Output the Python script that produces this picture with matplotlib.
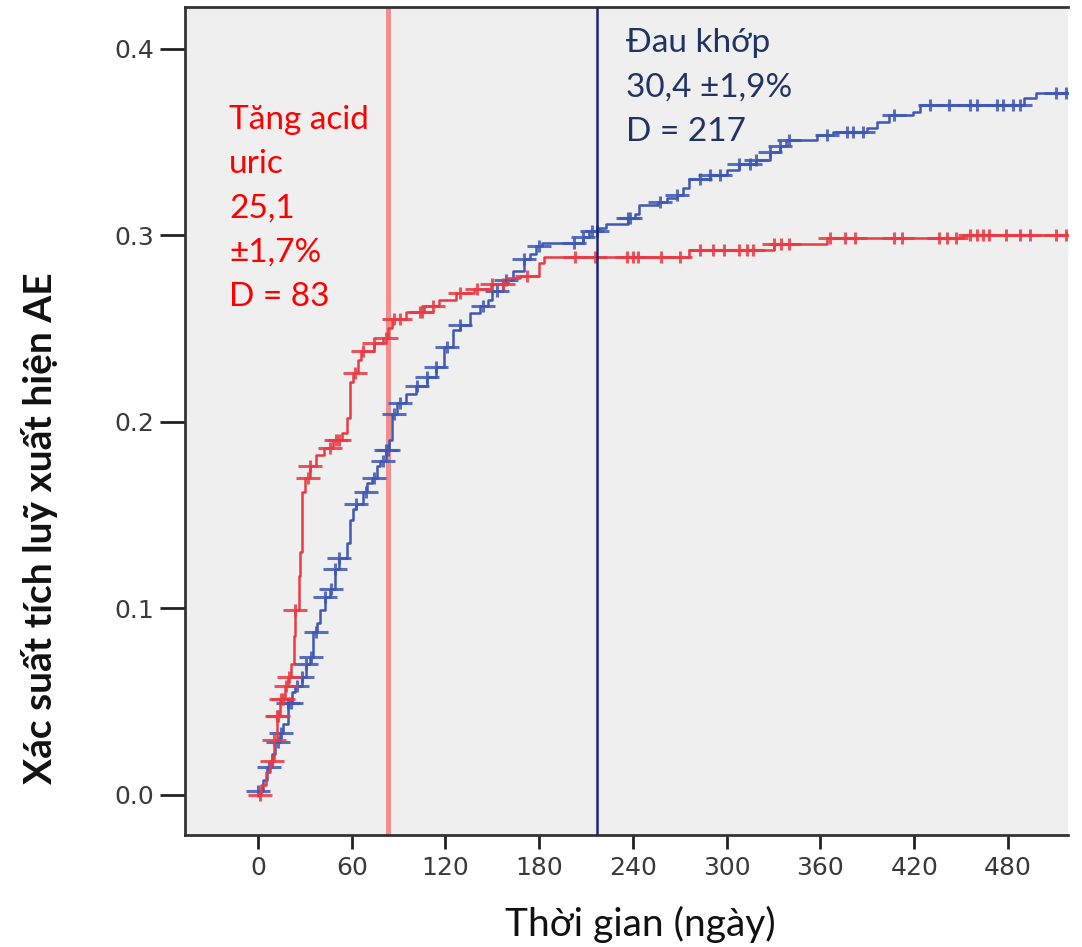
import numpy as np
import matplotlib
matplotlib.use('Agg')
import matplotlib.pyplot as plt
from matplotlib.path import Path

# Đường tích luỹ Kaplan-Meier: thời điểm nhảy bậc (ngày) và giá trị sau bậc
uric_days = [0, 2, 5, 8, 10, 12, 14, 17, 19, 21, 23, 24, 26, 27, 28, 30, 33, 37, 42, 48,
             54, 57, 59, 61, 64, 66, 74, 80, 83, 86, 95, 106, 116, 127, 138, 149, 160, 168,
             180, 183, 276, 330, 364, 451, 518]
uric_prob = [0.000, 0.005, 0.012, 0.018, 0.029, 0.042, 0.051, 0.058, 0.063, 0.070, 0.085,
             0.099, 0.117, 0.130, 0.162, 0.170, 0.176, 0.182, 0.186, 0.190, 0.194, 0.202,
             0.221, 0.226, 0.233, 0.238, 0.242, 0.245, 0.250, 0.255, 0.259, 0.262, 0.265,
             0.269, 0.271, 0.274, 0.277, 0.278, 0.285, 0.288, 0.292, 0.295, 0.2986, 0.300,
             0.301]
uric_censor = [1, 9, 10, 12, 13, 15, 16, 18, 20, 24, 32, 33, 46, 50, 52, 62, 67, 74, 82, 87,
               91, 104, 105, 112, 129, 140, 150, 157, 172, 203, 216, 236, 240, 243, 258, 270,
               283, 291, 298, 308, 313, 317, 330, 335, 340, 366, 376, 382, 407, 412, 436, 441,
               447, 456, 460, 464, 468, 479, 488, 494, 511, 517]

joint_days = [0, 3, 6, 9, 11, 14, 16, 19, 22, 24, 28, 31, 33, 35, 38, 40, 43, 46, 49, 52, 57,
              59, 61, 63, 67, 70, 73, 76, 78, 82, 84, 86, 89, 95, 101, 108, 114, 119, 125, 129,
              136, 142, 147, 150, 157, 163, 170, 174, 178, 182, 208, 212, 218, 223, 237, 241,
              244, 256, 262, 268, 272, 276, 289, 300, 308, 319, 328, 334, 338, 358, 368, 390,
              396, 404, 419, 424, 490, 498, 518]
joint_prob = [0.002, 0.008, 0.015, 0.022, 0.028, 0.033, 0.038, 0.049, 0.055, 0.058, 0.063,
              0.070, 0.074, 0.087, 0.092, 0.099, 0.106, 0.110, 0.121, 0.127, 0.135, 0.147,
              0.153, 0.156, 0.162, 0.167, 0.170, 0.176, 0.179, 0.185, 0.190, 0.204, 0.210,
              0.215, 0.219, 0.224, 0.229, 0.240, 0.249, 0.252, 0.258, 0.262, 0.265, 0.270,
              0.276, 0.281, 0.287, 0.290, 0.294, 0.296, 0.299, 0.302, 0.304, 0.306, 0.309,
              0.3115, 0.316, 0.318, 0.320, 0.3215, 0.325, 0.330, 0.332, 0.335, 0.338, 0.340,
              0.3445, 0.348, 0.351, 0.3537, 0.3553, 0.3575, 0.3606, 0.3643, 0.366, 0.3697,
              0.3735, 0.376, 0.3765]
joint_censor = [0, 7, 13, 15, 19, 21, 25, 28, 31, 34, 37, 43, 47, 49, 52, 63, 69, 74, 80, 82,
                83, 87, 91, 102, 108, 114, 121, 129, 144, 153, 159, 170, 180, 202, 208, 214,
                217, 237, 238, 257, 268, 283, 289, 296, 308, 315, 319, 328, 334, 340, 364, 377,
                381, 387, 407, 430, 442, 456, 460, 473, 477, 483, 488, 511, 517]

# Trung vị thời gian xuất hiện (ngày)
uric_D = 83
joint_D = 217

x_ticks = [0, 60, 120, 180, 240, 300, 360, 420, 480]
y_ticks = [0.0, 0.1, 0.2, 0.3, 0.4]

red = '#ea3a44'
blue = '#3f58b4'

# dấu kiểm duyệt: dấu cộng dẹt
censor_mark = Path([(-1, 0), (1, 0), (0, -0.5), (0, 0.5)],
                   [Path.MOVETO, Path.LINETO, Path.MOVETO, Path.LINETO])


def step_value(days, prob, t):
    idx = np.searchsorted(days, t, side='right') - 1
    return np.array(prob)[np.clip(idx, 0, len(prob) - 1)]


def draw_curve(ax, days, prob, censor, color, z):
    ax.step(days, prob, where='post', color=color, lw=1.8, zorder=z)
    ax.plot(censor, step_value(days, prob, censor), ls='none', marker=censor_mark,
            ms=17, mew=2.2, color=color, alpha=0.85, zorder=z)


fig = plt.figure(figsize=(10.82, 9.47), dpi=100)
ax = fig.add_axes([185 / 1082, 1 - 835 / 947, (1068 - 185) / 1082, (835 - 7) / 947])
ax.set_facecolor('#efefef')

ax.axvline(uric_D, color='#f08e8e', lw=3.6, zorder=1)
draw_curve(ax, joint_days, joint_prob, joint_censor, blue, 2)
draw_curve(ax, uric_days, uric_prob, uric_censor, red, 3)
ax.axvline(joint_D, color='#1c2670', lw=1.8, zorder=4)

tick_font = {'family': 'DejaVu Sans', 'size': 18, 'color': '#3a3a3a'}
ax.set_xlim(-46.7, 518.4)
ax.set_ylim(-0.0217, 0.4223)
ax.set_xticks(x_ticks)
ax.set_yticks(y_ticks)
ax.set_xticklabels([str(v) for v in x_ticks], fontdict=tick_font)
ax.set_yticklabels(['%.1f' % v for v in y_ticks], fontdict=tick_font)
ax.tick_params(axis='both', direction='out', color='#222222', width=2)
ax.tick_params(axis='y', length=18, pad=4)
ax.tick_params(axis='x', length=10, pad=5)
for side in ['left', 'bottom', 'top']:
    ax.spines[side].set_color('#333333')
    ax.spines[side].set_linewidth(2)
ax.spines['right'].set_visible(False)

fnt = 'Lato'
ax.text(-18.5, 0.370, 'Tăng acid\nuric\n25,1\n±1,7%\nD = 83', color='#ff0000',
        fontsize=24, family=fnt, va='top', ha='left', linespacing=1.6)
ax.text(235.5, 0.411, 'Đau khớp\n30,4 ±1,9%\nD = 217', color='#1f3464',
        fontsize=24, family=fnt, va='top', ha='left', linespacing=1.6)

fig.text(640 / 1082, 1 - 924 / 947, 'Thời gian (ngày)', fontsize=28, family=fnt,
         ha='center', va='center', color='#111111')
fig.text(40 / 1082, 1 - 528 / 947, 'Xác suất tích luỹ xuất hiện AE', fontsize=28,
         family=fnt, weight='bold', rotation=90, ha='center', va='center', color='#111111')

plt.savefig('out.png', dpi=100)
